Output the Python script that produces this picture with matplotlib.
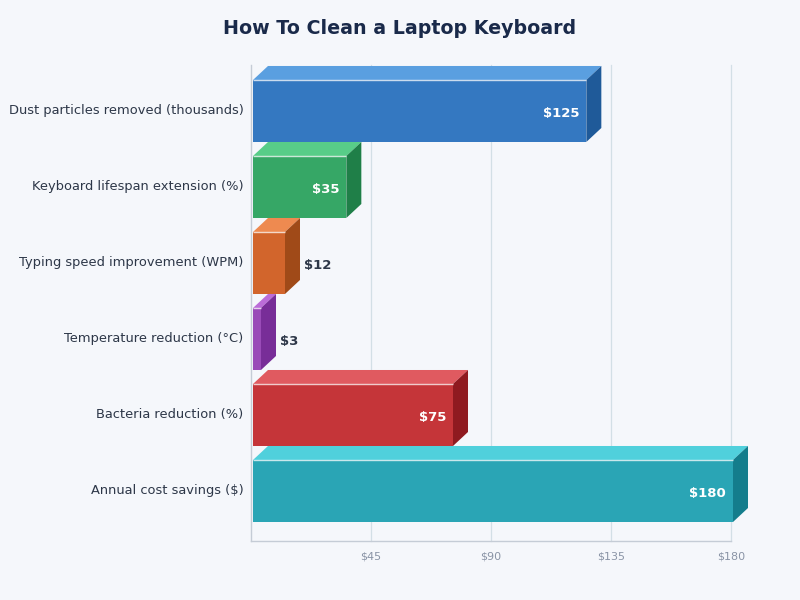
import matplotlib
matplotlib.use("Agg")
import matplotlib.pyplot as plt
from matplotlib.patches import Polygon
from matplotlib.transforms import Affine2D

title = "How To Clean a Laptop Keyboard"
categories = ["Dust particles removed (thousands)", "Keyboard lifespan extension (%)",
              "Typing speed improvement (WPM)", "Temperature reduction (°C)",
              "Bacteria reduction (%)", "Annual cost savings ($)"]
values = [125, 35, 12, 3, 75, 180]
front_colors = ["#3478c1", "#36a766", "#d2652c", "#9a4bb8", "#c53539", "#2aa5b5"]
top_colors = ["#5a9fe0", "#58cd88", "#ee8a50", "#bb6cd8", "#e05a60", "#50d0dc"]
side_colors = ["#1f5a99", "#1f7f48", "#a04a18", "#782d98", "#8f1a20", "#147d8c"]
xticks = [45, 90, 135, 180]
xticklabels = ["$45", "$90", "$135", "$180"]

BG = "#f5f7fb"
W, H = 800, 600
fig = plt.figure(figsize=(8, 6), dpi=100, facecolor=BG)
ax = fig.add_axes([251 / W, 1 - 541 / H, 480 / W, 476 / H], facecolor=BG)
ax.set_xlim(0, 180)
ax.set_ylim(5.658, -0.605)
ax.set_axisbelow(True)
ax.xaxis.grid(True, color="#d3dfe6", lw=0.9, clip_on=False)
ax.yaxis.grid(False)
for s in ("top", "right"):
    ax.spines[s].set_visible(False)
for s in ("left", "bottom"):
    ax.spines[s].set_color("#c5ccd6")
    ax.spines[s].set_linewidth(1)

ax.set_yticks(range(len(categories)), categories, fontsize=9.35, color="#2d3748")
ax.set_xticks(xticks, xticklabels, fontsize=8, color="#8a94a6")
ax.tick_params(axis="both", length=0)
ax.tick_params(axis="y", pad=7.5)
ax.tick_params(axis="x", pad=7.3)
for lab in ax.get_yticklabels():
    lab.set_transform(lab.get_transform() + Affine2D().translate(3, 2))

fig.text(400 / W, 1 - 28 / H, title, ha="center", va="center",
         fontsize=13.65, fontweight="bold", color="#1a2a4a")

OFF, DX, DY = 2, 15, 14   # px: bar inset, depth
BH = 62 / 76
shift = Affine2D().translate(OFF, 0)
fig.canvas.draw()
to_px = ax.transData.transform
for i, v in enumerate(values):
    (x0, yb), (x1, yt) = to_px([(0, i + BH / 2), (v, i - BH / 2)])
    x0 += OFF; x1 += OFF
    ax.barh(i, v, height=BH, color=front_colors[i], lw=0, zorder=3,
            transform=ax.transData + shift, clip_on=False)
    top = [(x0, yt), (x0 + DX, yt + DY), (x1 + DX, yt + DY), (x1, yt)]
    side = [(x1, yt), (x1 + DX, yt + DY), (x1 + DX, yb + DY), (x1, yb)]
    ax.add_artist(Polygon(top, closed=True, fc=top_colors[i], ec="none", zorder=3,
                          transform=None, clip_on=False))
    ax.add_artist(Polygon(side, closed=True, fc=side_colors[i], ec="none", zorder=3,
                          transform=None, clip_on=False))
    ax.plot([0, v], [i - BH / 2, i - BH / 2], color="white", alpha=0.75, lw=1,
            zorder=4, transform=ax.transData + shift, solid_capstyle="butt", clip_on=False)
    label = f"${v}"
    if v > 30:
        ax.text(x1 - 7, (yb + yt) / 2 - 3, label, transform=None, ha="right", va="center",
                fontsize=9.5, fontweight="bold", color="white", zorder=5)
    else:
        ax.text(x1 + DX + 4, (yb + yt) / 2 - 3, label, transform=None, ha="left", va="center",
                fontsize=9.5, fontweight="bold", color="#2d3748", zorder=5)

fig.savefig("out.png", dpi=100, facecolor=BG)
